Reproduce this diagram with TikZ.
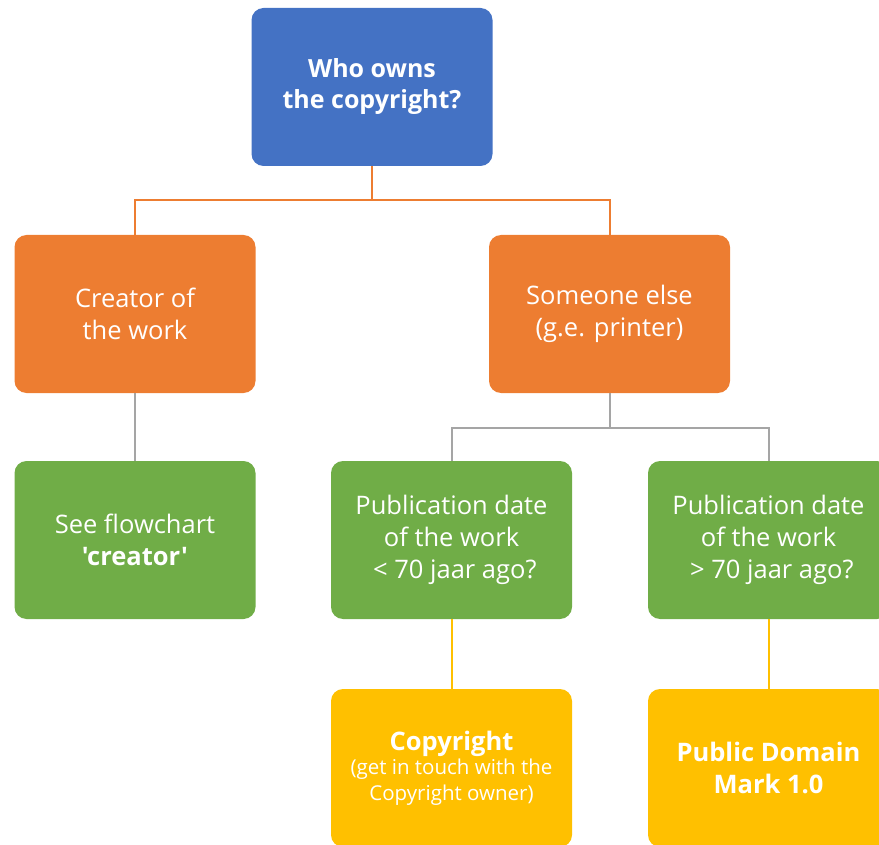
\documentclass[tikz,border=0pt]{standalone}
\usepackage{fontspec}
\setmainfont{Open Sans}[Ligatures=TeXOff]
\usepackage{xcolor}
\definecolor{boxblue}{HTML}{4472C4}
\definecolor{boxorange}{HTML}{ED7D31}
\definecolor{boxgreen}{HTML}{70AD47}
\definecolor{boxyellow}{HTML}{FFC000}
\definecolor{linegray}{HTML}{A5A5A5}
\begin{document}
\begin{tikzpicture}[x=1pt,y=-1pt]
  \tikzset{box/.style = {shape=rectangle,rounded corners=12pt,minimum width=241pt,minimum height=158pt,inner sep=2pt,align=center,text=white,font=\fontsize{25.5}{32}\selectfont}}
  \tikzset{bluebox/.style = {box,fill=boxblue,font=\bfseries\fontsize{25}{31}\selectfont}}
  \tikzset{orangebox/.style = {box,fill=boxorange}}
  \tikzset{greenbox/.style = {box,fill=boxgreen}}
  \tikzset{yellowbox/.style = {box,fill=boxyellow}}
  \tikzset{link/.style = {line width=2pt}}

  \path[use as bounding box] (0,0) rectangle (879,845);
  \clip (0,0) rectangle (879,845);

	\node[bluebox] (who) at (372,87) {Who owns\\the copyright?};

	\node[orangebox] (creator) at (135,314) {Creator of\\the work};
	\node[orangebox] (someone) at (609.5,314) {Someone else\\(g.e. printer)};

	\node[greenbox] (flowchart) at (135,540) {See flowchart\\\textbf{'creator'}};
	\node[greenbox] (recent) at (451.5,540) {Publication date\\of the work\\ \ {<} 70 jaar ago?};
	\node[greenbox] (old) at (768.5,540) {Publication date\\of the work\\ \ {>} 70 jaar ago?};

	\node[yellowbox] (copyright) at (451.5,768) {\textbf{Copyright}\\[-8pt]{\fontsize{20.5}{26}\selectfont (get in touch with the}\\[-6pt]{\fontsize{20.5}{26}\selectfont Copyright owner)}};
	\node[yellowbox] (pdm) at (768.5,768) {\textbf{Public Domain}\\\textbf{Mark 1.0}};

	\coordinate (topsplit) at (372,200);
	\coordinate (rightsplit) at (609.5,428);

    \draw[link,boxorange] (who.south) -- (topsplit);
    \foreach \to in {creator, someone}
    \draw[link,boxorange] (topsplit) -| (\to.north);

    \draw[link,linegray] (creator.south) -- (flowchart.north);
    \draw[link,linegray] (someone.south) -- (rightsplit);
    \foreach \to in {recent, old}
    \draw[link,linegray] (rightsplit) -| (\to.north);

    \foreach \from/\to in {recent/copyright, old/pdm}
    \draw[link,boxyellow] (\from.south) -- (\to.north);

\end{tikzpicture}
\end{document}
